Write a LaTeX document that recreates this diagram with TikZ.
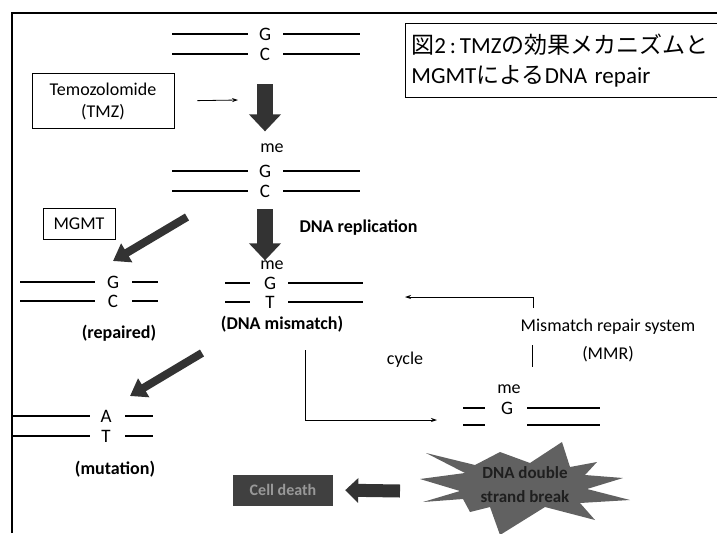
\documentclass[tikz,border=0pt]{standalone}
\usepackage{fontspec}
\setmainfont{Carlito}
\newfontfamily\jpfont{Noto Sans CJK JP}
\usetikzlibrary{arrows.meta}

\begin{document}
\begin{tikzpicture}[x=1pt, y=-1pt,
    letter/.style={inner sep=0pt, font=\fontsize{19}{19}\selectfont},
    melabel/.style={inner sep=0pt, font=\fontsize{18}{18}\selectfont},
    txt/.style={align=center, font=\fontsize{18}{28}\selectfont},
    boldtxt/.style={align=center, font=\fontsize{18}{22}\selectfont\bfseries},
    box/.style={draw, line width=0.8pt, align=center, font=\fontsize{18}{22}\selectfont},
    strand/.style={line width=1.2pt},
    thinarrow/.style={-{Stealth[length=6pt,width=4pt]}, line width=0.8pt},
    downarrow/.style={draw=black!80, line width=16pt, -{Triangle[width=31pt,length=17pt]}},
    slantarrow/.style={draw=black!80, line width=8pt, -{Triangle[width=21pt,length=16pt]}},
    backarrow/.style={draw=black!80, line width=13pt, -{Triangle[width=24pt,length=13pt]}}]

\useasboundingbox (0,0) rectangle (717,533);

% Frame and title
\draw[line width=1.5pt] (12,533) -- (12,13) -- (717,13);
\node[draw, line width=0.8pt, anchor=north west, minimum height=74pt, text width=320pt,
      align=left, inner sep=6pt, font=\fontsize{23}{30}\selectfont] (title) at (405,23)
      {{\jpfont 図}2\,:\,TMZ{\jpfont の効果メカニズムと}\\MGMT{\jpfont による}DNA repair};

% Nodes
\node[box, minimum width=142pt, minimum height=55pt] (tmz) at (103,101) {Temozolomide\\(TMZ)};
\node[box, minimum width=72pt, minimum height=31pt] (mgmt) at (79,224) {MGMT};

\node[letter] (g1) at (265,34) {G};
\node[letter] (c1) at (265,54) {C};

\node[melabel] (me1) at (272,148) {me};
\node[letter] (g2) at (265,171) {G};
\node[letter] (c2) at (265,191) {C};

\node[boldtxt, anchor=west] (repl) at (296,228) {DNA replication};

\node[letter] (g3) at (113,282) {G};
\node[letter] (c3) at (113,301) {C};
\node[boldtxt] (repaired) at (119,333) {(repaired)};

\node[melabel] (me2) at (272,265) {me};
\node[letter] (g4) at (270,283) {G};
\node[letter] (t4) at (270,302) {T};
\node[boldtxt] (mismatch) at (282,324) {(DNA mismatch)};

\node[letter] (a5) at (106,416) {A};
\node[letter] (t5) at (106,436) {T};
\node[boldtxt] (mutation) at (115,469) {(mutation)};

\node[txt] (cycle) at (405,360) {cycle};
\node[txt] (mmr) at (608,340) {Mismatch repair system\\(MMR)};

\node[melabel] (me6) at (509,389) {me};
\node[letter] (g6) at (507,408) {G};
\coordinate (g6low) at (507,425);

% Double strand break burst
\coordinate (dsbc) at (525,485);
\fill[black!62, shift={(dsbc)}] (-105,-6) -- (-60,-12) -- (-99,-32) -- (-50,-20)
    -- (-25,-33) -- (5,-22) -- (37,-43) -- (45,-18) -- (72,-23) -- (60,-10)
    -- (98,-7) -- (62,4) -- (105,15) -- (55,18) -- (70,35) -- (20,22)
    -- (-25,50) -- (-35,22) -- (-55,27) -- (-62,14) -- (-102,17) -- (-65,6) -- cycle;
\node[align=center, text=black!88, font=\fontsize{17}{24}\selectfont\bfseries] (dsb) at (dsbc)
      {DNA double\\strand break};
\node[fill=black!75, minimum width=100pt, minimum height=31pt, text=black!40,
      font=\fontsize{16}{18}\selectfont\bfseries] (death) at (283,490) {Cell death};

\coordinate (tmzhit) at (238,100);
\coordinate (s1a) at (187,217);
\coordinate (s1b) at (113,261);
\coordinate (s2a) at (202,353);
\coordinate (s2b) at (130,396);
\coordinate (cyc) at (305,350);
\coordinate (cycend) at (437,420);
\coordinate (mmrfoot) at (533,308);
\coordinate (mmrend) at (405,297);
\coordinate (dsbtail) at (400,491);

% Strands
\foreach \n/\la/\lb/\ra/\rb in {g1/-93/-17/18/95, c1/-93/-17/18/95,
    g2/-93/-17/18/95, c2/-93/-17/18/95, g3/-93/-18/19/45, c3/-93/-18/19/45,
    g4/-45/-20/18/93, t4/-45/-20/18/93, a5/-94/-16/19/47, t5/-94/-16/19/47,
    g6/-44/-22/20/93, g6low/-44/-22/20/93}
  \draw[strand] ([xshift=\la pt]\n.center) -- ([xshift=\lb pt]\n.center)
                ([xshift=\ra pt]\n.center) -- ([xshift=\rb pt]\n.center);

% Arrows
\draw[thinarrow, shorten <=23pt] (tmz.east) -- (tmzhit);
\draw[downarrow, shorten <=24pt, shorten >=12pt] (c1.south) -- (c1.south |- me1.north);
\draw[downarrow, shorten <=12pt] (c2.south) -- (c2.south |- me2.north);
\draw[slantarrow] (s1a) -- (s1b);
\draw[slantarrow] (s2a) -- (s2b);
\draw[thinarrow] (cyc) |- (cycend);
\draw[thinarrow] (mmrfoot) |- (mmrend);
\draw[line width=0.8pt] (532,345) -- (532,367);
\draw[backarrow, shorten >=12pt] (dsbtail) -- (death.east);
\end{tikzpicture}
\end{document}
